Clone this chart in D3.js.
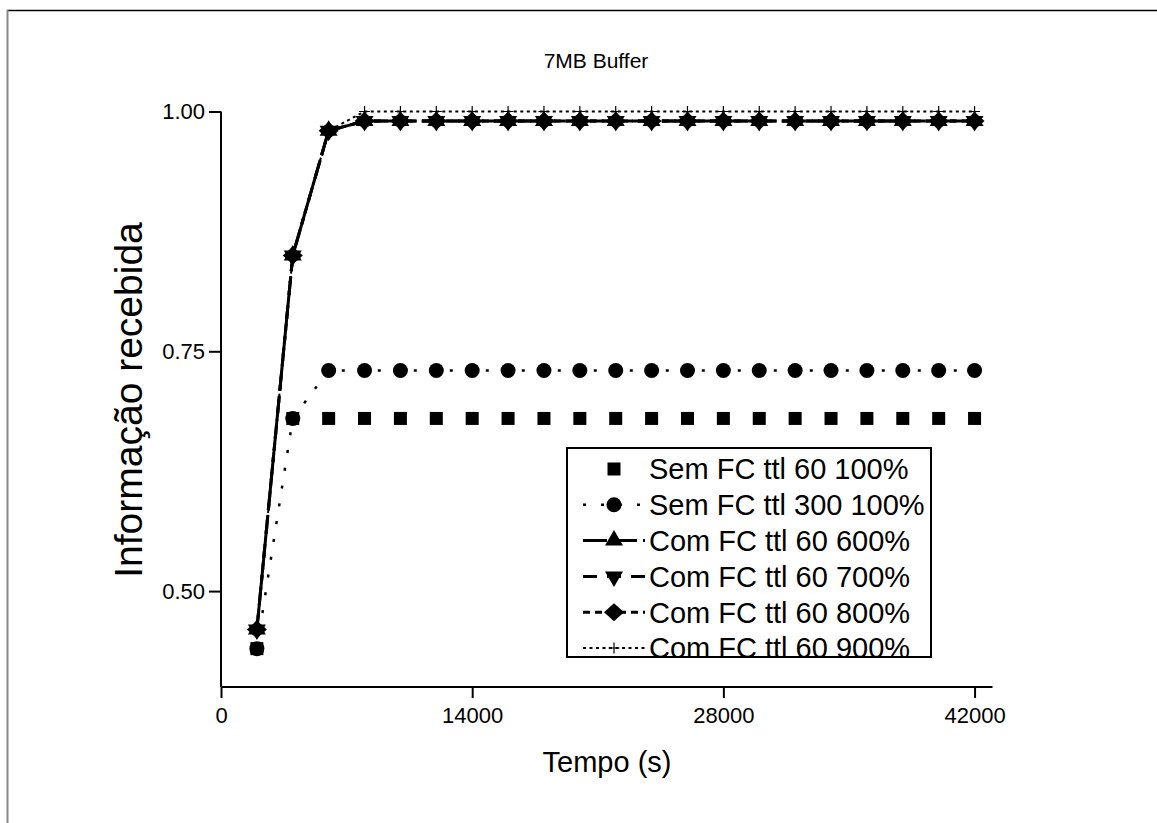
<!DOCTYPE html>
<html lang="pt">
<head>
<meta charset="utf-8">
<title>7MB Buffer</title>
<script src="https://d3js.org/d3.v7.min.js"></script>
<style>
  body { margin: 0; background: #fff; }
  svg { display: block; font-family: "Liberation Sans", Arial, sans-serif; }
</style>
</head>
<body>
<script>
// Dados
var tempo = [2000, 4000, 6000, 8000, 10000, 12000, 14000, 16000, 18000, 20000, 22000,
             24000, 26000, 28000, 30000, 32000, 34000, 36000, 38000, 40000, 42000];

var semFc60 = [0.44, 0.68, 0.68, 0.68, 0.68, 0.68, 0.68, 0.68, 0.68, 0.68, 0.68,
               0.68, 0.68, 0.68, 0.68, 0.68, 0.68, 0.68, 0.68, 0.68, 0.68];
var semFc300 = [0.44, 0.68, 0.73, 0.73, 0.73, 0.73, 0.73, 0.73, 0.73, 0.73, 0.73,
                0.73, 0.73, 0.73, 0.73, 0.73, 0.73, 0.73, 0.73, 0.73, 0.73];
var comFc600 = [0.46, 0.85, 0.98, 0.99, 0.99, 0.99, 0.99, 0.99, 0.99, 0.99, 0.99,
                0.99, 0.99, 0.99, 0.99, 0.99, 0.99, 0.99, 0.99, 0.99, 0.99];
var comFc700 = [0.46, 0.85, 0.98, 0.99, 0.99, 0.99, 0.99, 0.99, 0.99, 0.99, 0.99,
                0.99, 0.99, 0.99, 0.99, 0.99, 0.99, 0.99, 0.99, 0.99, 0.99];
var comFc800 = [0.46, 0.85, 0.98, 0.99, 0.99, 0.99, 0.99, 0.99, 0.99, 0.99, 0.99,
                0.99, 0.99, 0.99, 0.99, 0.99, 0.99, 0.99, 0.99, 0.99, 0.99];
var comFc900 = [0.46, 0.85, 0.98, 1.00, 1.00, 1.00, 1.00, 1.00, 1.00, 1.00, 1.00,
                1.00, 1.00, 1.00, 1.00, 1.00, 1.00, 1.00, 1.00, 1.00, 1.00];

var nomes = ["Sem FC ttl 60 100%", "Sem FC ttl 300 100%", "Com FC ttl 60 600%",
             "Com FC ttl 60 700%", "Com FC ttl 60 800%", "Com FC ttl 60 900%"];

var xTicks = [0, 14000, 28000, 42000];
var yTicks = [0.50, 0.75, 1.00];

// Estilo de cada serie (linha e simbolo)
var series = [
  { nome: nomes[0], valores: semFc60,  simbolo: "square",  linha: false, dash: null,    largura: 0 },
  { nome: nomes[1], valores: semFc300, simbolo: "circle",  linha: true,  dash: "3,15",  largura: 2.5 },
  { nome: nomes[2], valores: comFc600, simbolo: "triUp",   linha: true,  dash: "24,6",  largura: 3 },
  { nome: nomes[3], valores: comFc700, simbolo: "triDown", linha: true,  dash: "14,10", largura: 3 },
  { nome: nomes[4], valores: comFc800, simbolo: "diamond", linha: true,  dash: "7,5",   largura: 3 },
  { nome: nomes[5], valores: comFc900, simbolo: "plus",    linha: true,  dash: "3,3.5", largura: 2 }
];

var w = 1157, h = 823;

var svg = d3.select("body").append("svg")
  .attr("width", w)
  .attr("height", h);

// moldura (so topo e esquerda)
svg.append("line").attr("x1", 7).attr("y1", 10.5).attr("x2", w).attr("y2", 10.5)
  .attr("stroke", "#000").attr("stroke-width", 1.5);
svg.append("line").attr("x1", 7.5).attr("y1", 10).attr("x2", 7.5).attr("y2", h)
  .attr("stroke", "#888").attr("stroke-width", 2);

// escalas
var x = d3.scaleLinear().domain([0, 43000]).range([221, 992.5]);
var y = d3.scaleLinear().domain([0.40, 1.00]).range([687, 111.5]);

// eixos
var xAxis = d3.axisBottom(x).tickValues(xTicks).tickSize(11).tickSizeOuter(0)
  .tickPadding(9).tickFormat(d3.format("d"));
var yAxis = d3.axisLeft(y).tickValues(yTicks).tickSize(12).tickSizeOuter(0)
  .tickPadding(4).tickFormat(d3.format(".2f"));

var gx = svg.append("g").attr("transform", "translate(0," + y(0.40) + ")").call(xAxis);
var gy = svg.append("g").attr("transform", "translate(" + x(0) + ",0)").call(yAxis);

[gx, gy].forEach(function(g) {
  g.selectAll("path, line").attr("stroke", "#000").attr("stroke-width", 2);
  g.selectAll("text").attr("fill", "#000").style("font-size", "22px");
});
gx.select(".domain").attr("d", "M" + x(0) + ",0H" + x(43000));
gy.select(".domain").attr("d", "M0," + y(0.40) + "V" + y(1.00));

// titulos
svg.append("text").attr("x", 596).attr("y", 68).attr("text-anchor", "middle")
  .style("font-size", "21px").text("7MB Buffer");
svg.append("text").attr("x", 607).attr("y", 772).attr("text-anchor", "middle")
  .style("font-size", "29px").text("Tempo (s)");
svg.append("text").attr("transform", "translate(142,400) rotate(-90)")
  .attr("text-anchor", "middle").style("font-size", "39px").text("Informação recebida");

// simbolos
function desenhaSimbolo(g, tipo) {
  if (tipo === "square") {
    g.append("rect").attr("x", -6.5).attr("y", -6.5).attr("width", 13).attr("height", 13).attr("fill", "#000");
  } else if (tipo === "circle") {
    g.append("circle").attr("r", 7.5).attr("fill", "#000");
  } else if (tipo === "triUp") {
    g.append("path").attr("d", "M0,-10.5L9,5L-9,5Z").attr("fill", "#000");
  } else if (tipo === "triDown") {
    g.append("path").attr("d", "M0,10.5L9,-5L-9,-5Z").attr("fill", "#000");
  } else if (tipo === "diamond") {
    g.append("path").attr("d", "M0,-9L10,0L0,9L-10,0Z").attr("fill", "#000");
  } else if (tipo === "plus") {
    g.append("path").attr("d", "M-5.5,0H5.5M0,-5.5V5.5").attr("stroke", "#000").attr("stroke-width", 1.2);
  }
}

var linha = d3.line()
  .x(function(d) { return x(d[0]); })
  .y(function(d) { return y(d[1]); });

series.forEach(function(s) {
  var pts = tempo.map(function(t, i) { return [t, s.valores[i]]; });
  if (s.linha) {
    svg.append("path").datum(pts)
      .attr("d", linha)
      .attr("fill", "none")
      .attr("stroke", "#000")
      .attr("stroke-width", s.largura)
      .attr("stroke-dasharray", s.dash);
  }
  svg.append("g").selectAll("g").data(pts).enter().append("g")
    .attr("transform", function(d) { return "translate(" + x(d[0]) + "," + y(d[1]) + ")"; })
    .each(function() { desenhaSimbolo(d3.select(this), s.simbolo); });
});

// legenda
var leg = svg.append("g");
leg.append("rect").attr("x", 567).attr("y", 448).attr("width", 364).attr("height", 209)
  .attr("fill", "#fff").attr("stroke", "#000").attr("stroke-width", 2);

var legY = d3.scalePoint().domain(nomes).range([469, 648]);

series.forEach(function(s) {
  var ly = legY(s.nome);
  if (s.linha) {
    leg.append("line").attr("x1", 583).attr("x2", 645).attr("y1", ly).attr("y2", ly)
      .attr("stroke", "#000").attr("stroke-width", s.largura).attr("stroke-dasharray", s.dash);
  }
  var g = leg.append("g").attr("transform", "translate(614," + ly + ")");
  desenhaSimbolo(g, s.simbolo);
  leg.append("text").attr("x", 649).attr("y", ly).attr("dy", "0.36em")
    .style("font-size", "29px").text(s.nome);
});
</script>
</body>
</html>
